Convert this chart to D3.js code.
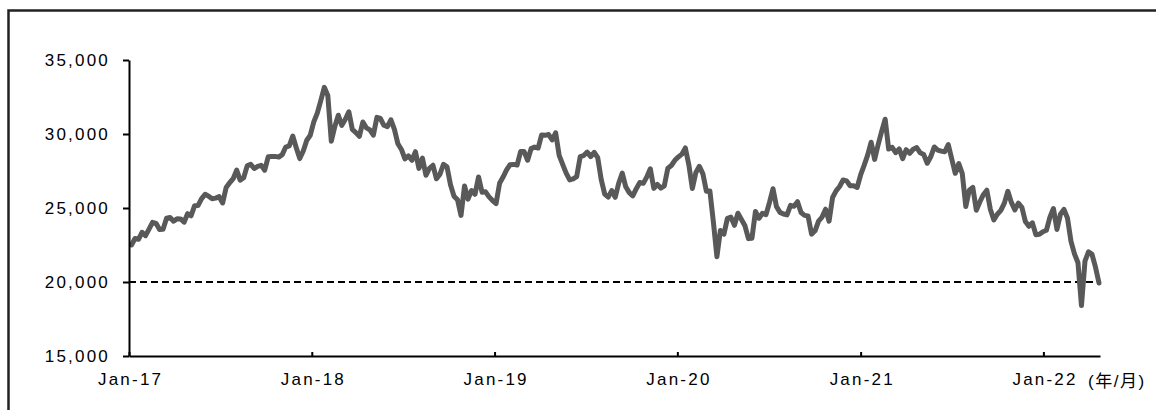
<!DOCTYPE html>
<html>
<head>
<meta charset="utf-8">
<script src="https://cdn.jsdelivr.net/npm/d3@7"></script>
<style>
  body { margin: 0; background: #fff; }
  svg { display: block; }
</style>
</head>
<body>
<svg id="chart" width="1156" height="410"></svg>
<script>
// Hang Seng Index, weekly (Friday) closes
const hsi2017 = [22503, 22937, 22885, 23360, 23130, 23575, 24033, 23965, 23552, 23568, 24309, 24358, 24111,
  24267, 24262, 24042, 24615, 24476, 25156, 25174, 25639, 25924, 25800, 25626, 25670, 25765,
  25341, 26389, 26706, 26980, 27563, 26884, 27048, 27848, 27953, 27668, 27808, 27881, 27554,
  28458, 28476, 28487, 28439, 28604, 29121, 29199, 29866, 29074, 28340, 28848, 29578, 29919];
const hsi2018 = [30815, 31412, 32255, 33154, 32602, 29507, 30515, 31268, 30583, 30996, 31502, 30309, 30093,
  29844, 30809, 30418, 30281, 29927, 31122, 31048, 30588, 30493, 30958, 30310, 29339, 28955,
  28316, 28525, 28224, 28804, 27677, 28367, 27213, 27672, 27888, 26973, 27286, 27954, 27789,
  26572, 25801, 25561, 24500, 26486, 25601, 26183, 25927, 27100, 26063, 26094, 25753, 25504];
const hsi2019 = [25300, 26667, 27090, 27569, 27930, 27946, 27901, 28816, 28812, 28228, 29012, 29113, 29051,
  29936, 29909, 29963, 29605, 30082, 28550, 27946, 27354, 26901, 26965, 27118, 28473, 28543,
  28775, 28471, 28765, 28397, 26919, 25939, 25734, 26179, 25725, 26691, 27353, 26435, 26041,
  25821, 26308, 26720, 26667, 27101, 27651, 26327, 26595, 26346, 26498, 27688, 27871, 28225];
const hsi2020 = [28452, 28638, 29056, 27909, 26313, 27404, 27816, 27309, 26130, 26146, 24033, 21709, 23484,
  23236, 24300, 24380, 23831, 24644, 24230, 23797, 22930, 22961, 24770, 24301, 24644, 24549,
  25373, 26300, 25089, 24705, 24595, 24531, 25183, 25113, 25422, 24695, 24503, 24455, 23235,
  23459, 24119, 24386, 24918, 24107, 25712, 26156, 26451, 26894, 26835, 26505, 26498, 26386];
const hsi2021 = [27231, 27878, 28573, 29447, 28284, 29289, 30173, 31000, 28980, 29098, 28740, 28990, 28336,
  28939, 28698, 28970, 29079, 28725, 28610, 28027, 28458, 29124, 28918, 28842, 28801, 29288,
  28310, 27344, 28004, 27321, 25100, 26200, 26391, 24849, 25407, 25901, 26205, 24920, 24192,
  24576, 24837, 25330, 26126, 25377, 24871, 25327, 25049, 24080, 23767, 23996, 23193, 23223, 23398];
const hsi2022 = [23493, 24383, 24965, 23550, 24573, 24906, 24327, 22767, 21905, 21300, 18415, 21404, 22039,
  21872, 21000, 19934];

const yTicks = [15000, 20000, 25000, 30000, 35000];
const xTickDates = ["2017-01-01", "2018-01-01", "2019-01-01", "2020-01-01", "2021-01-01", "2022-01-01"];
const xTickLabels = ["Jan-17", "Jan-18", "Jan-19", "Jan-20", "Jan-21", "Jan-22"];
const referenceLevel = 20000;
const unitLabel = "(年/月)";

// Attach each year's values to that year's Fridays
const yearly = [[2017, hsi2017], [2018, hsi2018], [2019, hsi2019], [2020, hsi2020], [2021, hsi2021], [2022, hsi2022]];
const series = [];
yearly.forEach(([yr, vals]) => {
  const fridays = d3.timeFriday.range(new Date(yr, 0, 1), new Date(yr + 1, 0, 1));
  vals.forEach((v, i) => series.push({ date: fridays[i], value: v }));
});

const parse = d3.timeParse("%Y-%m-%d");
const svg = d3.select("#chart");
const font = "'Liberation Sans', Arial, 'Noto Sans CJK JP', sans-serif";

// Outer frame
svg.append("rect")
  .attr("x", 8.5).attr("y", 10.5)
  .attr("width", 1170).attr("height", 420)
  .attr("fill", "none").attr("stroke", "#222").attr("stroke-width", 2.5);

const x = d3.scaleTime()
  .domain([parse("2017-01-01"), parse("2022-04-24")])
  .range([129, 1100]);
const y = d3.scaleLinear()
  .domain([15000, 35000])
  .range([356, 60]);

// Reference level
svg.append("line")
  .attr("x1", x.range()[0]).attr("x2", x.range()[1])
  .attr("y1", y(referenceLevel)).attr("y2", y(referenceLevel))
  .attr("stroke", "#000").attr("stroke-width", 2)
  .attr("stroke-dasharray", "7,4");

// Index line
svg.append("path")
  .datum(series)
  .attr("fill", "none")
  .attr("stroke", "#595959")
  .attr("stroke-width", 5)
  .attr("stroke-linejoin", "round")
  .attr("stroke-linecap", "round")
  .attr("d", d3.line().x(d => x(d.date)).y(d => y(d.value)));

// Y axis
const yAxis = svg.append("g")
  .attr("transform", `translate(${x.range()[0]},0)`)
  .call(d3.axisLeft(y).tickValues(yTicks).tickSize(6).tickSizeOuter(0).tickPadding(13)
    .tickFormat(d3.format(",")));

// X axis
const xAxis = svg.append("g")
  .attr("transform", `translate(0,${y.range()[0]})`)
  .call(d3.axisBottom(x).tickValues(xTickDates.map(parse)).tickSize(-4).tickSizeOuter(0).tickPadding(17)
    .tickFormat((d, i) => xTickLabels[i]));

[yAxis, xAxis].forEach(g => {
  g.select(".domain").attr("stroke", "#000").attr("stroke-width", 2);
  g.selectAll(".tick line").attr("stroke", "#000").attr("stroke-width", 2);
  g.selectAll(".tick text")
    .attr("fill", "#000")
    .style("font-family", font)
    .style("font-size", "17px")
    .style("letter-spacing", "2.2px");
});
xAxis.selectAll(".tick text").attr("dx", "1.1px");

// Unit label
svg.append("text")
  .attr("x", 1088).attr("y", 387)
  .style("font-family", font)
  .style("font-size", "17px")
  .style("letter-spacing", "1.5px")
  .attr("fill", "#000")
  .text(unitLabel);
</script>
</body>
</html>
